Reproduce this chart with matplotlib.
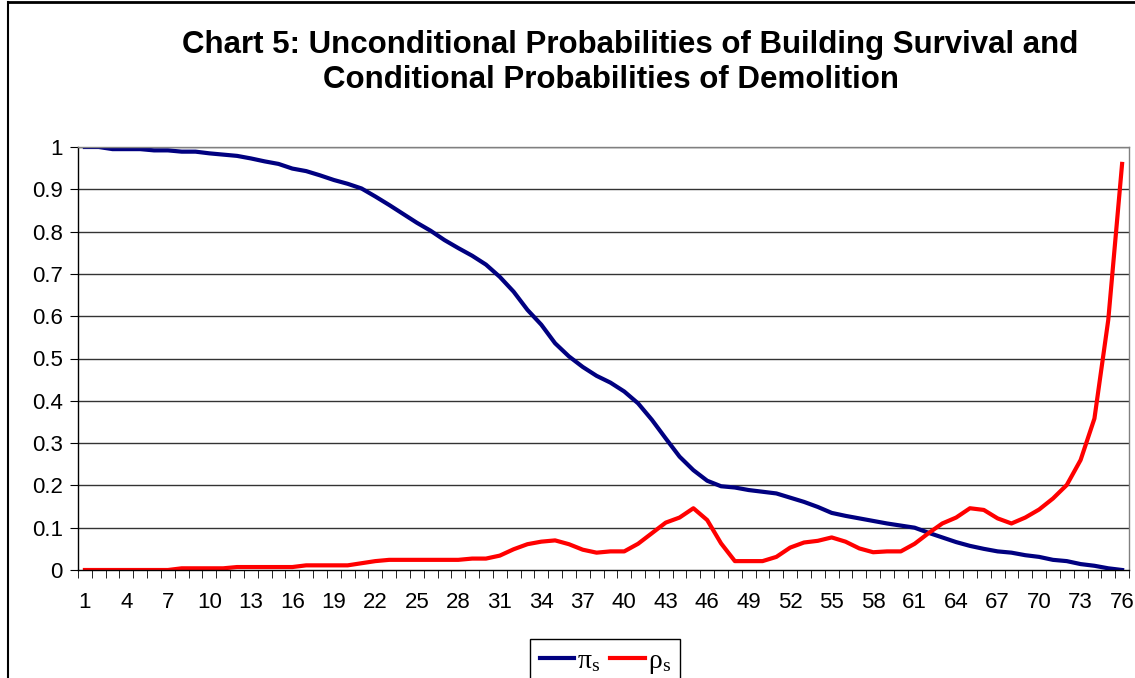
import matplotlib.pyplot as plt
import numpy as np

# building age index (categories 1..76)
ages = list(range(1, 77))

# unconditional probability of survival (pi_s)
pi_s = [1.000, 1.000, 0.995, 0.995, 0.995, 0.992, 0.992, 0.989, 0.989, 0.985,
        0.982, 0.979, 0.973, 0.966, 0.960, 0.949, 0.943, 0.933, 0.922, 0.913,
        0.902, 0.883, 0.863, 0.842, 0.821, 0.802, 0.780, 0.761, 0.743, 0.722,
        0.693, 0.658, 0.615, 0.580, 0.536, 0.505, 0.480, 0.459, 0.443, 0.422,
        0.394, 0.355, 0.311, 0.268, 0.236, 0.211, 0.198, 0.195, 0.189, 0.185,
        0.181, 0.171, 0.161, 0.149, 0.135, 0.128, 0.122, 0.116, 0.110, 0.105,
        0.100, 0.088, 0.077, 0.066, 0.057, 0.050, 0.044, 0.041, 0.035, 0.031,
        0.024, 0.021, 0.014, 0.010, 0.004, 0.000]

# conditional probability of demolition (rho_s)
rho_s = [0.000, 0.000, 0.000, 0.000, 0.000, 0.000, 0.000, 0.004, 0.004, 0.004,
         0.004, 0.007, 0.007, 0.007, 0.007, 0.007, 0.011, 0.011, 0.011, 0.011,
         0.016, 0.021, 0.024, 0.024, 0.024, 0.024, 0.024, 0.024, 0.027, 0.027,
         0.034, 0.049, 0.061, 0.067, 0.070, 0.061, 0.048, 0.041, 0.044, 0.044,
         0.062, 0.087, 0.112, 0.124, 0.146, 0.118, 0.063, 0.021, 0.021, 0.021,
         0.031, 0.053, 0.065, 0.069, 0.077, 0.067, 0.051, 0.042, 0.044, 0.044,
         0.062, 0.087, 0.110, 0.124, 0.146, 0.142, 0.122, 0.110, 0.124, 0.143,
         0.169, 0.201, 0.260, 0.358, 0.591, 0.960]

x_labels = ages[::3]
y_ticks = [0, 0.1, 0.2, 0.3, 0.4, 0.5, 0.6, 0.7, 0.8, 0.9, 1]
y_labels = ['0', '0.1', '0.2', '0.3', '0.4', '0.5', '0.6', '0.7', '0.8', '0.9', '1']

plt.rcParams['font.family'] = ['Liberation Sans', 'DejaVu Sans']

W, H = 1135, 678
fig = plt.figure(figsize=(W / 100, H / 100), dpi=100)
ax = fig.add_axes([78 / W, 1 - 570 / H, (1129 - 78) / W, (570 - 147) / H])

# chart area border (only top and left visible in the crop)
fig.add_artist(plt.Line2D([8 / W, 8 / W], [0, 1 - 2 / H], color='black', lw=1.5,
                          transform=fig.transFigure))
fig.add_artist(plt.Line2D([8 / W, 1], [1 - 2 / H, 1 - 2 / H], color='black', lw=2,
                          transform=fig.transFigure))

line_pi, = ax.plot(ages, pi_s, color='#000080', lw=3, solid_joinstyle='round')
line_rho, = ax.plot(ages, rho_s, color='#ff0000', lw=3, solid_joinstyle='round')

ax.set_xlim(0.5, 76.5)
ax.set_ylim(0, 1)
ax.set_yticks(y_ticks)
ax.set_yticklabels(y_labels, fontsize=16)
ax.set_xticks(x_labels)
ax.set_xticklabels([str(v) for v in x_labels], fontsize=16)
ax.set_xticks(np.arange(0.5, 77, 1), minor=True)
ax.tick_params(axis='x', which='major', length=0, pad=16)
ax.tick_params(axis='x', which='minor', length=6, direction='out', color='black')
ax.tick_params(axis='y', length=6, direction='out', pad=5)

for yv in y_ticks[1:]:
    ax.axhline(yv, color='#333333', lw=1, zorder=0)

ax.spines['left'].set_color('black')
ax.spines['bottom'].set_color('black')
ax.spines['top'].set_color('#808080')
ax.spines['right'].set_color('#808080')
for s in ax.spines.values():
    s.set_linewidth(1)

fig.text(630 / W, 1 - 45 / H, 'Chart 5: Unconditional Probabilities of Building Survival and',
         ha='center', va='center', fontsize=22.5, fontweight='bold')
fig.text(611 / W, 1 - 80 / H, 'Conditional Probabilities of Demolition',
         ha='center', va='center', fontsize=22.5, fontweight='bold')

leg = fig.legend([line_pi, line_rho], [r'$\mathregular{\pi_s}$', r'$\mathregular{\rho_s}$'],
                 loc='upper left', bbox_to_anchor=(530 / W, 1 - 639 / H), ncol=2,
                 frameon=True, fancybox=False, edgecolor='black', framealpha=1,
                 prop={'family': 'Liberation Serif', 'size': 20},
                 handlelength=1.25, handletextpad=0.1, columnspacing=0.35,
                 borderpad=0.35, borderaxespad=0)
leg.get_frame().set_linewidth(1)

fig.savefig('out.png', dpi=100)
